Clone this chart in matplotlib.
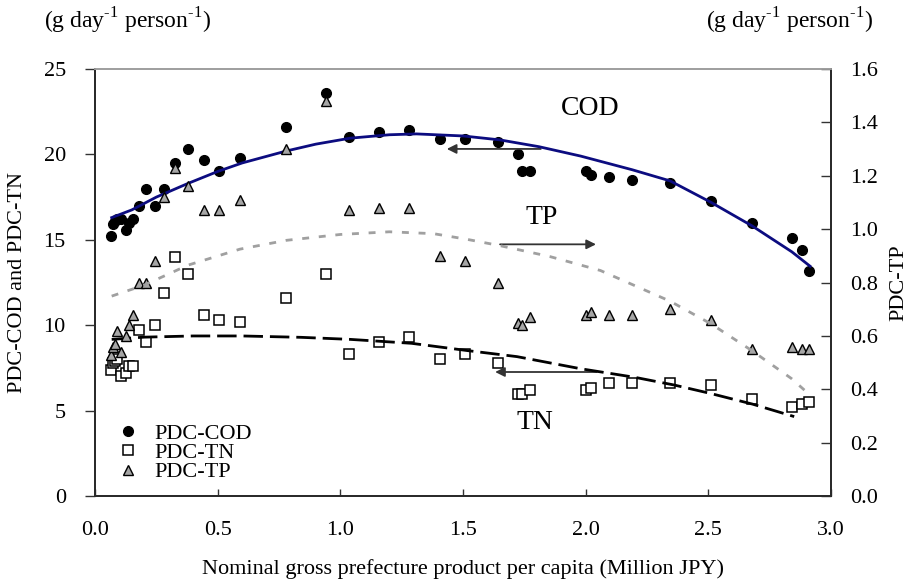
import matplotlib
matplotlib.use("Agg")
import matplotlib.pyplot as plt
from matplotlib.lines import Line2D

plt.rcParams['font.family'] = ['Liberation Serif', 'DejaVu Serif']
plt.rcParams['mathtext.fontset'] = 'custom'
plt.rcParams['mathtext.rm'] = 'Liberation Serif'

# ---- data (x: Million JPY) ----
gdp = [0.065, 0.072, 0.080, 0.090, 0.108, 0.125, 0.140, 0.154, 0.181, 0.208,
       0.245, 0.280, 0.326, 0.379, 0.443, 0.504, 0.591, 0.780, 0.942, 1.037,
       1.157, 1.281, 1.408, 1.510, 1.642, 1.723, 1.741, 1.775, 2.000, 2.020,
       2.094, 2.189, 2.344, 2.511, 2.677, 2.839, 2.881, 2.911]
pdc_cod = [15.2, 15.9, 16.1, 16.2, 16.2, 15.6, 16.0, 16.2, 17.0, 18.0,
           17.0, 18.0, 19.5, 20.3, 19.7, 19.0, 19.8, 21.6, 23.6, 21.0,
           21.3, 21.4, 20.9, 20.9, 20.7, 20.0, 19.0, 19.0, 19.0, 18.8,
           18.7, 18.5, 18.3, 17.3, 16.0, 15.1, 14.4, 13.2]
pdc_tn = [7.4, 7.8, 7.9, 8.0, 7.0, 7.2, 7.6, 7.6, 9.7, 9.0,
          10.0, 11.9, 14.0, 13.0, 10.6, 10.3, 10.2, 11.6, 13.0, 8.3,
          9.0, 9.3, 8.0, 8.3, 7.8, 6.0, 6.0, 6.2, 6.2, 6.3,
          6.6, 6.6, 6.6, 6.5, 5.7, 5.2, 5.4, 5.5]
pdc_tp = [0.53, 0.56, 0.57, 0.62, 0.54, 0.60, 0.64, 0.68, 0.80, 0.80,
          0.88, 1.12, 1.23, 1.16, 1.07, 1.07, 1.11, 1.30, 1.48, 1.07,
          1.08, 1.08, 0.90, 0.88, 0.80, 0.65, 0.64, 0.67, 0.68, 0.69,
          0.68, 0.68, 0.70, 0.66, 0.55, 0.56, 0.55, 0.55]

# trend lines
cod_fit_x = [0.068, 0.15, 0.25, 0.379, 0.5, 0.6, 0.78, 0.9, 1.04, 1.2, 1.31,
             1.5, 1.65, 1.81, 1.98, 2.19, 2.344, 2.51, 2.68, 2.84, 2.915]
cod_fit_y = [16.3, 16.75, 17.5, 18.3, 19.0, 19.5, 20.2, 20.6, 20.95, 21.15, 21.2,
             21.08, 20.85, 20.45, 19.9, 19.1, 18.45, 17.2, 15.8, 14.3, 13.45]
tp_fit_x = [0.068, 0.2, 0.379, 0.591, 0.78, 1.0, 1.2, 1.38, 1.515, 1.651,
            1.855, 2.06, 2.344, 2.511, 2.677, 2.839, 2.9]
tp_fit_y = [0.749, 0.79, 0.865, 0.925, 0.958, 0.98, 0.99, 0.983, 0.962, 0.938,
            0.897, 0.845, 0.73, 0.645, 0.545, 0.44, 0.39]
tn_fit_x = [0.068, 0.2, 0.4, 0.6, 0.84, 1.04, 1.29, 1.52, 1.72, 1.98,
            2.2, 2.36, 2.51, 2.68, 2.85]
tn_fit_y = [9.17, 9.3, 9.37, 9.37, 9.29, 9.17, 8.94, 8.51, 8.16, 7.45,
            6.95, 6.5, 6.0, 5.38, 4.65]

x_ticks = [0.0, 0.5, 1.0, 1.5, 2.0, 2.5, 3.0]
left_ticks = [0, 5, 10, 15, 20, 25]
right_ticks = [0.0, 0.2, 0.4, 0.6, 0.8, 1.0, 1.2, 1.4, 1.6]

FS = 16
W, H = 917, 583
fig = plt.figure(figsize=(W / 100, H / 100), dpi=100)
ax = fig.add_axes([95 / W, 1 - 496 / H, (831 - 95) / W, (496 - 69) / H])
ax2 = ax.twinx()

ax.set_xlim(0, 3)
ax.set_ylim(0, 25)
ax2.set_ylim(0, 1.6)

# scatter
ax.plot(gdp, pdc_cod, 'o', color='black', ms=7, zorder=3, label='PDC-COD')
ax.plot(gdp, pdc_tn, 's', mfc='white', mec='black', mew=1.1, ms=7, zorder=3, label='PDC-TN')
ax2.plot(gdp, pdc_tp, '^', mfc='#a6a6a6', mec='black', mew=1.0, ms=7.5, zorder=3, label='PDC-TP')

# trend lines
ax.plot(cod_fit_x, cod_fit_y, '-', color='#0c0c80', lw=2.0, zorder=4)
ax.plot(tn_fit_x, tn_fit_y, color='black', lw=2.0, dashes=(7, 2.5), zorder=4)
ax2.plot(tp_fit_x, tp_fit_y, color='#a0a0a0', lw=2.0, dashes=(2.5, 3.5), zorder=4)

# arrows
arw = dict(arrowstyle='-|>', color='#333333', lw=1.3, mutation_scale=14, shrinkA=0, shrinkB=0)
ax.annotate('', xy=(1.434, 20.32), xytext=(1.817, 20.32), arrowprops=arw)
ax2.annotate('', xy=(2.042, 0.943), xytext=(1.651, 0.943), arrowprops=arw)
ax.annotate('', xy=(1.631, 7.26), xytext=(2.045, 7.26), arrowprops=arw)

# annotations
ax.text(2.018, 22.66, 'COD', fontsize=20, ha='center', va='center')
ax.text(1.82, 16.3, 'TP', fontsize=20, ha='center', va='center')
ax.text(1.794, 4.33, 'TN', fontsize=20, ha='center', va='center')

# axes styling
ax.set_xticks(x_ticks)
ax.set_xticklabels([f'{v:.1f}' for v in x_ticks])
ax.set_yticks(left_ticks)
ax.set_yticklabels([str(v) for v in left_ticks])
ax2.set_yticks(right_ticks)
ax2.set_yticklabels([f'{v:.1f}' for v in right_ticks])

ax.tick_params(axis='x', direction='in', length=5, width=1, labelsize=FS, pad=18, color='#333333')
ax.tick_params(axis='y', direction='out', length=7, width=1, labelsize=FS, pad=14, color='#333333')
ax2.tick_params(axis='y', direction='in', length=7, width=1, labelsize=FS, pad=14, color='#333333')

for a in (ax, ax2):
    for s in ('left', 'right', 'bottom'):
        a.spines[s].set_color('#2a2a2a')
        a.spines[s].set_linewidth(1.3)
    a.spines['top'].set_color('#a0a0a0')
    a.spines['top'].set_linewidth(1.3)

ax.set_xlabel('Nominal gross prefecture product per capita (Million JPY)', fontsize=FS, labelpad=14)
ax.set_ylabel('PDC-COD and PDC-TN', fontsize=FS, labelpad=12)
ax2.set_ylabel('PDC-TP', fontsize=FS, labelpad=8)

unit = r'(g day$^{\text{-1}}$ person$^{\text{-1}}$)'
fig.text(127 / W, 1 - 21 / H, unit, fontsize=17, ha='center', va='center')
fig.text(789 / W, 1 - 21 / H, unit, fontsize=17, ha='center', va='center')

# legend
handles = [Line2D([], [], ls='', marker='o', color='black', ms=7),
           Line2D([], [], ls='', marker='s', mfc='white', mec='black', mew=1.1, ms=7),
           Line2D([], [], ls='', marker='^', mfc='#a6a6a6', mec='black', mew=1.0, ms=7.5)]
leg = ax2.legend(handles, ['PDC-COD', 'PDC-TN', 'PDC-TP'], loc='upper left',
                 bbox_to_anchor=(117 / W, 1 - 423 / H), bbox_transform=fig.transFigure,
                 frameon=False, fontsize=FS, handlelength=1.0, handletextpad=0.7,
                 labelspacing=-0.05, borderpad=0, borderaxespad=0)

fig.savefig('out.png', dpi=100)
